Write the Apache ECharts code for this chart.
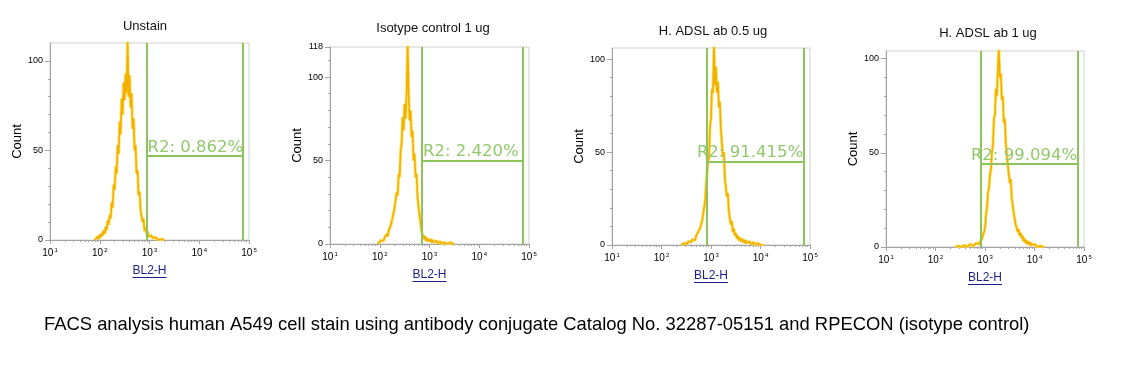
<!DOCTYPE html>
<html><head><meta charset="utf-8">
<script src="https://cdn.jsdelivr.net/npm/echarts@6/dist/echarts.min.js"></script>
<style>html,body{margin:0;padding:0;background:#fff}#c{width:1146px;height:378px}</style>
</head><body><div id="c"></div>
<script>
// ---------- data (x in log10 of BL2-H fluorescence, one bin per 0.02 decade) ----------
const panelTitles = ['Unstain', 'Isotype control 1 ug', 'H. ADSL ab 0.5 ug', 'H. ADSL ab 1 ug'];
const binStep = 0.02;
const binStarts = [1.90, 1.96, 2.40, 2.40];

const unstainCounts = [0,1,0,2,0.5,3,1.5,4,2.5,5.5,3.5,7.5,5.5,11,8.5,14,12,21,18,31,28,41,37,53,48,66,59,79,70,88,78,93,82,112,80,92,74,82,62,68,50,53,37,39,25,27,17,18,10,12,5,7,3.5,5,2,3,1,2.5,1,2,0.5,1.5,0.5,1,0,1,0,0.5,0,0.5,0];
const isotypeCounts = [0,1,0.5,2,1,3,2,4,3,6,4.5,8,7,11,10,16,15,22,21,31,29,42,40,56,60,76,68,84,75,90,122,92,74,80,64,68,50,54,40,42,28,29,17,18,8,9,3,5,2,4,1.5,3,1.5,3,1,2.5,1,2,0.5,2,0.5,1.5,0.5,1.5,0,1,0,1,0,1,0,0.5,0,1,0,0.5,0,0];
const adsl05Counts = [0,0.5,0,1,0.5,1.5,0.5,2,1,2.5,1.5,3,2,3.5,2.5,5,4,7,6,9,8.5,13,12,20,23,32,33,45,47,64,68,84,82,108,86,96,82,88,74,77,62,63,48,50,36,37,26,28,18,19,11,13,7,9,5,6.5,3.5,5,2.5,4,2,3.5,1.5,3,1,2.5,1,2,0.5,2,0.5,1.5,0.5,1.5,0,1,0,1,0,0.5,0,0.5,0,0];
const adsl1Counts = [0,0.5,0,0.5,0,1,0,0.5,0,1,0.5,1,0,1,0.5,1.5,0.5,1.5,0.5,1,1,2,1,2.5,1.5,3,2.5,4.5,4,8,10,17,21,29,31,38,41,50,54,68,70,84,80,95,106,90,92,78,80,66,68,55,56,44,45,34,36,26,27,18,19,12,13,8,9.5,6,7.5,4.5,6,3,4.5,2,3.5,1.5,3,1,2.5,1,2,0.5,1.5,0.5,1,0,1,0,0.5,0,0.5,0,0];
const panelCounts = [unstainCounts, isotypeCounts, adsl05Counts, adsl1Counts];

// R2 gate (log10 limits), marker height and label
const gateLeft = [2.94, 2.85, 2.92, 2.92];
const gateRight = [4.88, 4.88, 4.88, 4.88];
const gateHeight = [47, 50, 45, 44];
const gateLabels = ['R2: 0.862%', 'R2: 2.420%', 'R2: 91.415%', 'R2: 99.094%'];

// axes
const yMax = [110, 118, 106, 104];
const yTickLabels = [[0, 50, 100], [0, 50, 100, 118], [0, 50, 100], [0, 50, 100]];
const xDecades = [1, 2, 3, 4, 5];
const xMinorMultipliers = [2, 3, 4, 5, 6, 7, 8, 9];
const xAxisName = 'BL2-H';
const yAxisName = 'Count';
const caption = 'FACS analysis human A549 cell stain using antibody conjugate Catalog No. 32287-05151 and RPECON (isotype control)';

// ---------- layout ----------
const grids = [
  {left: 50, top: 43, width: 199, height: 197},
  {left: 330, top: 47, width: 199, height: 197},
  {left: 612, top: 48, width: 198, height: 197},
  {left: 886, top: 51, width: 198, height: 196}
];
const titleCenters = [[140, 15], [428, 17], [708, 20], [983, 22]];
const labelPos = ['insideStartTop', 'insideStartTop', 'insideEndTop', 'insideEndTop'];

const minorVals = [];
xDecades.slice(0, -1).forEach(d => xMinorMultipliers.forEach(m => minorVals.push(d + Math.log10(m))));

const GREEN = '#8cc35b';
const AXIS = '#a3a3a3';
const SANS = "'Liberation Sans', Arial, sans-serif";
const NAMEGAP_X = 25;

const option = {
  animation: false,
  backgroundColor: '#fff',
  title: panelTitles.map((t, i) => ({
    text: t, left: titleCenters[i][0], top: titleCenters[i][1], textAlign: 'center',
    textStyle: {fontSize: 13, fontWeight: 'normal', color: '#111', fontFamily: SANS}
  })).concat([{
    text: caption, left: 39, top: 311,
    textStyle: {fontSize: 18.4, fontWeight: 'normal', color: '#000', fontFamily: SANS}
  }]),
  grid: grids.map(g => Object.assign({show: true, borderColor: '#cfcfcf', borderWidth: 1, backgroundColor: 'transparent'}, g)),
  xAxis: [],
  yAxis: [],
  series: []
};

grids.forEach((g, i) => {
  option.xAxis.push({
    type: 'value', gridIndex: i, min: 1, max: 5, interval: 1, position: 'bottom',
    axisLine: {show: true, lineStyle: {color: AXIS, width: 1}},
    axisTick: {show: true, length: 4, lineStyle: {color: AXIS}},
    splitLine: {show: false},
    axisLabel: {
      margin: 7,
      formatter: v => '{b|10}{s|' + v + '}',
      rich: {
        b: {fontSize: 10, color: '#000', fontFamily: SANS},
        s: {fontSize: 6, color: '#000', fontFamily: SANS, padding: [0, 0, 7, 1]}
      }
    },
    name: xAxisName, nameLocation: 'middle', nameGap: NAMEGAP_X,
    nameTextStyle: {fontSize: 12, color: '#1e1e8a', fontFamily: SANS}
  });
  option.xAxis.push({
    type: 'value', gridIndex: i, min: 1, max: 5, position: 'bottom',
    axisLine: {show: false}, axisLabel: {show: false}, splitLine: {show: false},
    axisTick: {show: true, length: 2, customValues: minorVals, lineStyle: {color: AXIS}}
  });
  option.yAxis.push({
    type: 'value', gridIndex: i, min: 0, max: yMax[i], interval: 50,
    axisLine: {show: true, lineStyle: {color: AXIS}},
    axisTick: {show: true, length: 5, customValues: yTickLabels[i], lineStyle: {color: AXIS}},
    minorTick: {show: true, splitNumber: 5, length: 2, lineStyle: {color: AXIS}},
    splitLine: {show: false},
    axisLabel: {customValues: yTickLabels[i], fontSize: 9, color: '#000', margin: 7, fontFamily: SANS},
    name: yAxisName, nameLocation: 'middle', nameGap: 25, nameRotate: 90,
    nameTextStyle: {fontSize: 13, color: '#000', fontFamily: SANS}
  });
  const pts = panelCounts[i].map((c, k) => [binStarts[i] + k * binStep, c]);
  // light yellow fringe
  option.series.push({
    type: 'line', xAxisIndex: i * 2, yAxisIndex: i, data: pts,
    showSymbol: false, clip: true, silent: true,
    lineStyle: {color: '#ffdf55', width: 3.2, opacity: 0.85}, z: 2
  });
  // orange core
  option.series.push({
    type: 'line', xAxisIndex: i * 2, yAxisIndex: i, data: pts,
    showSymbol: false, clip: true, silent: true,
    lineStyle: {color: '#f2b000', width: 1.6}, z: 3
  });
  option.series.push({
    type: 'line', xAxisIndex: i * 2, yAxisIndex: i, data: [], silent: true, z: 4,
    markLine: {
      silent: true, symbol: 'none', animation: false,
      lineStyle: {color: GREEN, width: 2, type: 'solid'},
      label: {show: false},
      data: [
        {xAxis: gateLeft[i]},
        {xAxis: gateRight[i]},
        [
          {coord: [gateLeft[i], gateHeight[i]],
           label: {show: true, position: labelPos[i], formatter: gateLabels[i], color: '#92c86c',
                   fontSize: 16.5, fontFamily: "'DejaVu Sans', Verdana, sans-serif", distance: [1, 0]}},
          {coord: [gateRight[i], gateHeight[i]]}
        ]
      ]
    }
  });
});

const chart = echarts.init(document.getElementById('c'), null, {renderer: 'canvas'});
chart.setOption(option);

// underline for the BL2-H axis names
const ctx = document.createElement('canvas').getContext('2d');
ctx.font = "12px 'Liberation Sans'";
const w = ctx.measureText(xAxisName).width;
const lines = grids.map((g, i) => {
  const cx = g.left + g.width / 2;
  const y = g.top + g.height + NAMEGAP_X + 12.5;
  return {type: 'line', shape: {x1: cx - w / 2, y1: y, x2: cx + w / 2, y2: y}, style: {stroke: '#1e1e8a', lineWidth: 1}, silent: true};
});
chart.setOption({graphic: lines});
</script>
</body></html>
